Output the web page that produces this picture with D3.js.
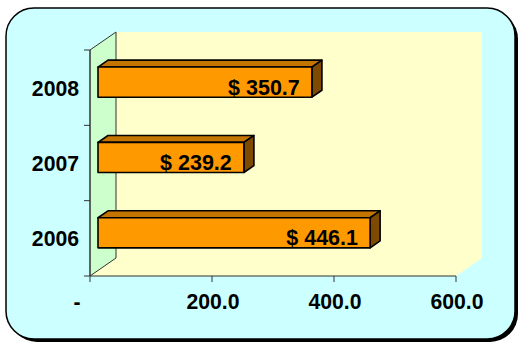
<!DOCTYPE html>
<html>
<head>
<meta charset="utf-8">
<script src="https://cdn.jsdelivr.net/npm/d3@7"></script>
<style>
html,body{margin:0;padding:0;background:#fff;}
svg{display:block;font-family:Arial,"Liberation Sans",sans-serif;font-weight:bold;}
</style>
</head>
<body>
<svg id="chart" width="519" height="343"></svg>
<script>
const categories = ["2008", "2007", "2006"];
const values = [350.7, 239.2, 446.1];
const xTicks = [0, 200, 400, 600];
const labelText = ["$ 350.7", "$ 239.2", "$ 446.1"];

const svg = d3.select("#chart");

// frame
svg.append("rect").attr("x", 9).attr("y", 11).attr("width", 509).attr("height", 331)
  .attr("rx", 28).attr("fill", "#000");
svg.append("rect").attr("x", 6).attr("y", 8).attr("width", 509).attr("height", 331)
  .attr("rx", 28).attr("fill", "#ccffff").attr("stroke", "#000").attr("stroke-width", 1.5);

// 3D geometry
const DX = 26, DY = -18;
const P = (x, y, d) => [x + DX * d, y + DY * d];
const x = d3.scaleLinear().domain([0, 600]).range([90, 456]);
const y = d3.scaleBand().domain(categories).range([50, 276]).paddingInner(0.6).paddingOuter(0.3);
const yTop = 50, yBot = 276;
const line = d3.line();

// back wall
svg.append("path").attr("d", line([P(x(0), yTop, 1), P(x(600), yTop, 1), P(x(600), yBot, 1), P(x(0), yBot, 1)]) + "Z")
  .attr("fill", "#ffffcc");
// floor
svg.append("path").attr("d", line([P(x(0), yBot, 0), P(x(600), yBot, 0), P(x(600), yBot, 1), P(x(0), yBot, 1)]) + "Z")
  .attr("fill", "#ffffcc");
// left wall
svg.append("path").attr("d", line([P(x(0), yTop, 0), P(x(0), yTop, 1), P(x(0), yBot, 1), P(x(0), yBot, 0)]) + "Z")
  .attr("fill", "#ccffcc").attr("stroke", "#333").attr("stroke-width", 1);

// axes
const ax = svg.append("g").attr("stroke", "#333").attr("stroke-width", 1).attr("fill", "none");
ax.append("line").attr("x1", x(0)).attr("x2", x(0)).attr("y1", yTop).attr("y2", yBot);
ax.append("line").attr("x1", x(0)).attr("x2", x(600)).attr("y1", yBot).attr("y2", yBot);
const step = y.step();
const bounds = [yTop].concat(categories.map((c, i) => yTop + step * (i + 1)));
bounds.forEach(b => ax.append("line").attr("x1", x(0) - 6).attr("x2", x(0)).attr("y1", b).attr("y2", b));
xTicks.forEach(t => ax.append("line").attr("x1", x(t)).attr("x2", x(t)).attr("y1", yBot).attr("y2", yBot + 6));

// x tick labels
svg.append("g").selectAll("text").data(xTicks).join("text")
  .attr("x", d => x(d)).attr("dx", d => d === 0 ? -13 : 1).attr("y", 308.5)
  .attr("text-anchor", "middle").attr("font-size", 21.2).attr("fill", "#000")
  .text(d => d === 0 ? "-" : d3.format(".1f")(d));

// category labels
svg.append("g").selectAll("text").data(categories).join("text")
  .attr("x", 79).attr("y", d => y(d) + y.bandwidth() / 2 + 8)
  .attr("text-anchor", "end").attr("font-size", 21.2).attr("fill", "#000")
  .text(d => d);

// bars
const d0 = 8 / 26, d1 = 18 / 26;
const bars = svg.append("g");
categories.forEach((c, i) => {
  const v = values[i];
  const yt = y(c), yb = y(c) + y.bandwidth();
  const g = bars.append("g").attr("stroke", "#000").attr("stroke-width", 1.6).attr("stroke-linejoin", "round");
  // top face
  g.append("path").attr("d", line([P(x(0), yt, d0), P(x(v), yt, d0), P(x(v), yt, d1), P(x(0), yt, d1)]) + "Z")
    .attr("fill", "#c47500");
  // side face
  g.append("path").attr("d", line([P(x(v), yt, d0), P(x(v), yt, d1), P(x(v), yb, d1), P(x(v), yb, d0)]) + "Z")
    .attr("fill", "#7d4a00");
  // front face
  g.append("path").attr("d", line([P(x(0), yt, d0), P(x(v), yt, d0), P(x(v), yb, d0), P(x(0), yb, d0)]) + "Z")
    .attr("fill", "#ff9900");
  const c0 = P(x(v), yb, d0);
  bars.append("text").attr("x", c0[0] - 48).attr("y", c0[1] - 2.5)
    .attr("text-anchor", "middle").attr("font-size", 21.5).attr("fill", "#000")
    .text(labelText[i]);
});
</script>
</body>
</html>
